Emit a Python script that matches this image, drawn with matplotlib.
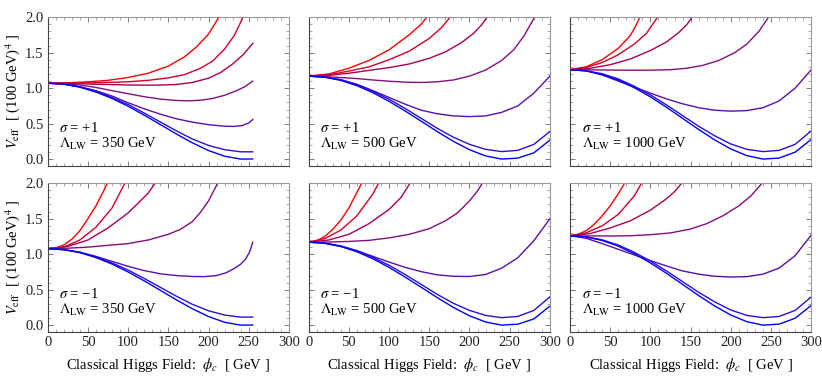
import numpy as np
import matplotlib
matplotlib.use("Agg")
from matplotlib import pyplot as plt
from matplotlib.ticker import MultipleLocator

plt.rcParams["font.family"] = ["Liberation Serif", "DejaVu Serif"]
plt.rcParams["mathtext.fontset"] = "stix"

# curve colours, red -> blue
colors = ["#ff0000", "#d4002b", "#aa0055", "#80107f", "#5a10aa", "#2a10d5", "#0000ff"]

# blue curves are nearly the same in every panel (x grid shared)
blue_x_350 = [0, 20, 40, 60, 80, 100, 120, 140, 160, 180, 200, 220, 240, 255]
blue_x = [0, 20, 40, 60, 80, 100, 120, 140, 160, 180, 200, 220, 240, 260, 280, 300]

# ---- sigma = +1, Lambda = 350 GeV ----
p1_x = [
    [0, 25, 50, 75, 100, 125, 150, 170, 185, 200, 213, 220],
    [0, 25, 50, 75, 100, 125, 150, 170, 190, 205, 220, 232, 243, 250],
    [0, 20, 40, 60, 80, 100, 120, 140, 160, 180, 200, 215, 230, 243, 255],
    [0, 20, 40, 60, 80, 100, 120, 140, 160, 175, 190, 205, 220, 235, 245, 255],
    [0, 20, 40, 60, 80, 100, 120, 140, 160, 180, 200, 220, 232, 242, 250, 255],
    blue_x_350,
    blue_x_350,
]
p1_y = [
    [1.07, 1.075, 1.09, 1.11, 1.15, 1.21, 1.31, 1.44, 1.58, 1.76, 2.0, 2.13],
    [1.07, 1.072, 1.075, 1.08, 1.09, 1.11, 1.145, 1.19, 1.28, 1.38, 1.55, 1.74, 2.0, 2.2],
    [1.07, 1.068, 1.063, 1.055, 1.05, 1.045, 1.042, 1.043, 1.052, 1.08, 1.14, 1.22, 1.34, 1.47, 1.63],
    [1.07, 1.063, 1.045, 1.01, 0.965, 0.922, 0.88, 0.847, 0.827, 0.822, 0.83, 0.855, 0.90, 0.965, 1.02, 1.10],
    [1.07, 1.057, 1.02, 0.965, 0.89, 0.795, 0.71, 0.635, 0.57, 0.522, 0.487, 0.465, 0.462, 0.475, 0.51, 0.56],
    [1.07, 1.057, 1.02, 0.955, 0.87, 0.77, 0.65, 0.525, 0.40, 0.285, 0.195, 0.135, 0.105, 0.105],
    [1.07, 1.056, 1.014, 0.946, 0.856, 0.746, 0.621, 0.489, 0.356, 0.231, 0.123, 0.043, 0.003, 0.004],
]

# ---- sigma = +1, Lambda = 500 GeV ----
p2_x = [
    [0, 25, 50, 75, 100, 125, 140, 147, 151],
    [0, 25, 50, 75, 100, 125, 150, 165, 176, 180],
    [0, 25, 50, 75, 100, 125, 150, 170, 190, 205, 215, 222, 226],
    [0, 20, 40, 60, 80, 100, 120, 140, 160, 180, 200, 220, 240, 255, 268, 281, 285],
    [0, 20, 40, 60, 80, 100, 120, 140, 160, 180, 200, 220, 240, 260, 280, 300],
    blue_x,
    blue_x,
]
p2_y = [
    [1.17, 1.20, 1.28, 1.39, 1.54, 1.75, 1.90, 2.0, 2.06],
    [1.17, 1.19, 1.24, 1.30, 1.40, 1.52, 1.70, 1.85, 2.0, 2.07],
    [1.17, 1.18, 1.21, 1.25, 1.29, 1.34, 1.42, 1.51, 1.64, 1.77, 1.89, 2.0, 2.07],
    [1.17, 1.163, 1.15, 1.135, 1.115, 1.098, 1.085, 1.08, 1.09, 1.115, 1.17, 1.255, 1.39, 1.54, 1.74, 2.0, 2.08],
    [1.17, 1.155, 1.12, 1.055, 0.965, 0.87, 0.775, 0.69, 0.64, 0.61, 0.60, 0.61, 0.66, 0.75, 0.93, 1.17],
    [1.17, 1.157, 1.118, 1.05, 0.955, 0.845, 0.715, 0.575, 0.435, 0.31, 0.21, 0.14, 0.108, 0.125, 0.21, 0.39],
    [1.17, 1.155, 1.109, 1.035, 0.936, 0.815, 0.679, 0.535, 0.389, 0.252, 0.134, 0.047, 0.003, 0.016, 0.09, 0.27],
]

# ---- sigma = +1, Lambda = 1000 GeV ----
p3_x = [
    [0, 20, 40, 60, 75, 81, 87, 90],
    [0, 20, 40, 60, 80, 95, 109, 113],
    [0, 25, 50, 75, 100, 120, 135, 145, 152, 156],
    [0, 25, 50, 75, 100, 125, 145, 165, 185, 205, 220, 235, 247, 251],
    [0, 20, 40, 60, 80, 100, 120, 140, 160, 180, 200, 220, 240, 260, 280, 300],
    blue_x,
    blue_x,
]
p3_y = [
    [1.26, 1.30, 1.40, 1.56, 1.74, 1.86, 2.0, 2.07],
    [1.26, 1.29, 1.36, 1.47, 1.62, 1.77, 2.0, 2.07],
    [1.26, 1.28, 1.33, 1.41, 1.53, 1.65, 1.78, 1.89, 2.0, 2.07],
    [1.26, 1.258, 1.255, 1.252, 1.253, 1.26, 1.28, 1.32, 1.39, 1.50, 1.62, 1.80, 2.0, 2.08],
    [1.26, 1.245, 1.185, 1.10, 1.015, 0.93, 0.85, 0.78, 0.725, 0.69, 0.677, 0.685, 0.725, 0.82, 1.00, 1.26],
    [1.26, 1.245, 1.203, 1.13, 1.027, 0.905, 0.765, 0.615, 0.465, 0.33, 0.215, 0.14, 0.108, 0.125, 0.21, 0.40],
    [1.26, 1.243, 1.194, 1.114, 1.007, 0.878, 0.732, 0.576, 0.419, 0.272, 0.145, 0.051, 0.003, 0.017, 0.10, 0.28],
]

# ---- sigma = -1, Lambda = 350 GeV ----
p4_x = [
    [0, 10, 20, 30, 40, 50, 60, 70, 75],
    [0, 20, 40, 60, 80, 96, 100],
    [0, 25, 50, 75, 100, 125, 135],
    [0, 25, 50, 75, 100, 125, 150, 165, 180, 190, 200, 210, 214],
    [0, 20, 40, 60, 80, 100, 120, 140, 160, 180, 195, 210, 222, 232, 240, 246, 251, 255],
    blue_x_350,
    blue_x_350,
]
p4_y = [
    [1.078, 1.09, 1.13, 1.21, 1.33, 1.50, 1.68, 1.90, 2.02],
    [1.078, 1.10, 1.20, 1.38, 1.65, 2.0, 2.1],
    [1.078, 1.11, 1.20, 1.37, 1.58, 1.86, 2.02],
    [1.078, 1.085, 1.10, 1.125, 1.15, 1.20, 1.28, 1.35, 1.46, 1.59, 1.75, 1.97, 2.07],
    [1.078, 1.065, 1.03, 0.97, 0.90, 0.83, 0.77, 0.725, 0.70, 0.687, 0.685, 0.70, 0.74, 0.80, 0.86, 0.93, 1.03, 1.17],
    [1.078, 1.065, 1.028, 0.963, 0.878, 0.778, 0.66, 0.535, 0.41, 0.295, 0.205, 0.145, 0.115, 0.117],
    [1.078, 1.064, 1.022, 0.953, 0.862, 0.751, 0.626, 0.493, 0.359, 0.233, 0.124, 0.043, 0.003, 0.004],
]

# ---- sigma = -1, Lambda = 500 GeV ----
p5_x = [
    [0, 10, 20, 30, 40, 50, 60, 66, 70],
    [0, 20, 40, 60, 80, 87, 90],
    [0, 25, 50, 75, 100, 115, 126, 130],
    [0, 25, 50, 75, 100, 125, 150, 170, 185, 200, 210, 216, 220],
    [0, 20, 40, 60, 80, 100, 120, 140, 160, 180, 200, 220, 240, 260, 280, 300],
    blue_x,
    blue_x,
]
p5_y = [
    [1.17, 1.19, 1.25, 1.35, 1.48, 1.65, 1.87, 2.0, 2.1],
    [1.17, 1.22, 1.34, 1.54, 1.85, 2.0, 2.07],
    [1.17, 1.20, 1.28, 1.43, 1.63, 1.80, 2.0, 2.08],
    [1.17, 1.172, 1.18, 1.195, 1.23, 1.28, 1.36, 1.47, 1.58, 1.75, 1.89, 2.0, 2.07],
    [1.17, 1.155, 1.11, 1.05, 0.97, 0.89, 0.815, 0.755, 0.71, 0.69, 0.687, 0.715, 0.805, 0.95, 1.19, 1.50],
    [1.17, 1.157, 1.118, 1.05, 0.955, 0.845, 0.715, 0.575, 0.435, 0.31, 0.21, 0.14, 0.108, 0.125, 0.21, 0.40],
    [1.17, 1.155, 1.109, 1.035, 0.936, 0.815, 0.679, 0.535, 0.389, 0.252, 0.134, 0.047, 0.003, 0.016, 0.09, 0.27],
]

# ---- sigma = -1, Lambda = 1000 GeV ----
p6_x = [
    [0, 10, 20, 30, 40, 50, 60, 68, 72],
    [0, 20, 40, 60, 80, 89, 92],
    [0, 25, 50, 75, 100, 120, 130, 139, 142],
    [0, 25, 50, 75, 100, 125, 150, 170, 190, 210, 225, 239, 243],
    [0, 20, 40, 60, 80, 100, 120, 140, 160, 180, 200, 220, 240, 260, 280, 300],
    blue_x,
    blue_x,
]
p6_y = [
    [1.26, 1.28, 1.33, 1.42, 1.54, 1.68, 1.85, 2.0, 2.08],
    [1.26, 1.30, 1.40, 1.56, 1.82, 2.0, 2.06],
    [1.26, 1.29, 1.37, 1.47, 1.62, 1.78, 1.88, 2.0, 2.05],
    [1.26, 1.258, 1.257, 1.26, 1.275, 1.30, 1.355, 1.43, 1.54, 1.68, 1.82, 2.0, 2.07],
    [1.26, 1.225, 1.15, 1.07, 0.99, 0.91, 0.835, 0.765, 0.72, 0.69, 0.68, 0.685, 0.72, 0.805, 0.98, 1.27],
    [1.26, 1.245, 1.203, 1.13, 1.027, 0.905, 0.765, 0.615, 0.465, 0.33, 0.215, 0.14, 0.108, 0.125, 0.21, 0.40],
    [1.26, 1.243, 1.194, 1.114, 1.007, 0.878, 0.732, 0.576, 0.419, 0.272, 0.145, 0.051, 0.003, 0.017, 0.10, 0.28],
]

sigmas = ["+1", "+1", "+1", "\u22121", "\u22121", "\u22121"]
lambdas = ["350", "500", "1000", "350", "500", "1000"]
xticks = [0, 50, 100, 150, 200, 250, 300]
yticks = [0.0, 0.5, 1.0, 1.5, 2.0]

panels = [(p1_x, p1_y), (p2_x, p2_y), (p3_x, p3_y),
          (p4_x, p4_y), (p5_x, p5_y), (p6_x, p6_y)]

fig = plt.figure(figsize=(8.22, 3.88), dpi=100)
lefts = [0.058, 0.3755, 0.6934]
bottoms = [0.573, 0.145]
w, h = 0.2935, 0.383

for i, (px, py) in enumerate(panels):
    row, col = divmod(i, 3)
    ax = fig.add_axes([lefts[col], bottoms[row], w, h])
    for xs, ys, c in zip(px, py, colors):
        ax.plot(xs, ys, color=c, lw=1.0, solid_joinstyle="round")
    ax.set_xlim(0, 300)
    ax.set_ylim(-0.09, 2.0)
    ax.set_xticks(xticks)
    ax.set_yticks(yticks)
    ax.xaxis.set_minor_locator(MultipleLocator(10))
    ax.yaxis.set_minor_locator(MultipleLocator(0.1))
    ax.tick_params(which="both", direction="in", top=True, right=True,
                   labelsize=10.5, colors="#222222", pad=3)
    ax.tick_params(which="major", length=3.5, width=0.6, color="#666666")
    ax.tick_params(which="minor", length=2, width=0.5, color="#888888")
    for s in ["left", "bottom"]:
        ax.spines[s].set_color("#444444")
        ax.spines[s].set_linewidth(0.8)
    for s in ["top", "right"]:
        ax.spines[s].set_color("#999999")
        ax.spines[s].set_linewidth(0.8)
    if col == 0:
        ax.set_yticklabels(["%.1f" % v for v in yticks])
        ax.set_ylabel(r"$V_{\rm eff}$  [ (100 GeV)$^4$ ]", fontsize=10.5, labelpad=2)
    else:
        ax.set_yticklabels([])
    if row == 1:
        ax.set_xticklabels([str(v) for v in xticks])
        ax.set_xlabel(r"Classical Higgs Field:  $\phi_c$  [ GeV ]", fontsize=10.5, labelpad=5)
    else:
        ax.set_xticklabels([])
    ax.text(0.048, 0.255, r"$\sigma$ = " + sigmas[i], transform=ax.transAxes,
            fontsize=10.5, va="center", ha="left")
    ax.text(0.048, 0.145, r"$\Lambda_{\rm LW}$ = " + lambdas[i] + " GeV",
            transform=ax.transAxes, fontsize=10.5, va="center", ha="left")

fig.savefig("out.png", dpi=100)
